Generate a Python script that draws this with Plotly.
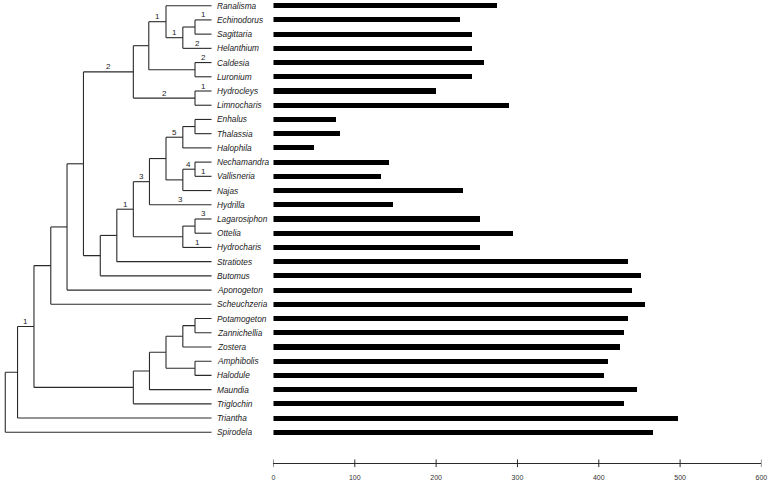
import plotly.graph_objects as go

# ---------------- data ----------------
taxa = ["Ranalisma", "Echinodorus", "Sagittaria", "Helanthium", "Caldesia", "Luronium",
        "Hydrocleys", "Limnocharis", "Enhalus", "Thalassia", "Halophila", "Nechamandra",
        "Vallisneria", "Najas", "Hydrilla", "Lagarosiphon", "Ottelia", "Hydrocharis",
        "Stratiotes", "Butomus", "Aponogeton", "Scheuchzeria", "Potamogeton", "Zannichellia",
        "Zostera", "Amphibolis", "Halodule", "Maundia", "Triglochin", "Triantha", "Spirodela"]
values = [275, 230, 245, 245, 260, 245, 200, 290, 77, 82, 51, 143, 133, 234, 148, 255, 295,
          255, 437, 452, 442, 457, 437, 432, 427, 412, 407, 447, 432, 498, 467]
leaf_parent = ["C", "E", "E", "D", "F", "F", "G", "G", "R", "R", "S", "V", "V", "U", "W",
               "AA", "AA", "Y", "Z", "I", "P", "Q", "AF", "AF", "AE", "AD", "AD", "AB", "N",
               "K", "root"]
leaf_support = ["", "1", "", "2", "2", "", "1", "", "", "", "", "", "1", "", "3", "3", "",
                "1", "", "", "", "", "", "", "", "", "", "", "", "", ""]

nodes = ["root", "K", "L", "Q", "P", "H", "A", "B", "C", "D", "E", "F", "G", "I", "Z", "X",
         "W", "T", "S", "R", "U", "V", "Y", "AA", "N", "AB", "AC", "AE", "AF", "AD"]
node_parent = [None, "root", "K", "L", "Q", "P", "H", "A", "B", "C", "D", "B", "A", "H", "I",
               "Z", "X", "W", "T", "S", "T", "U", "X", "Y", "L", "N", "AB", "AC", "AE", "AC"]
node_depth = [3.3, 15.7, 32.3, 49.3, 65.7, 82.3, 132.7, 148.3, 165.7, 182.7, 195, 195, 195,
              99.3, 116, 132.7, 149, 165.7, 182.7, 195, 182.7, 195, 182.7, 195, 132.7, 149,
              165.7, 182.7, 195, 195]
node_support = ["", "", "1", "", "", "", "2", "", "1", "1", "", "", "2", "", "", "1", "3", "",
                "5", "", "", "4", "", "", "", "", "", "", "", ""]
tip_depth = 211.7

axis_ticks = [0, 100, 200, 300, 400, 500, 600]

# ---------------- tree layout ----------------
depth = dict(zip(nodes, node_depth))
parent = dict(zip(nodes, node_parent))
children = {n: [] for n in nodes}
for n, p in zip(nodes, node_parent):
    if p is not None:
        children[p].append(n)
ypos = {}
for i, (t, p) in enumerate(zip(taxa, leaf_parent)):
    children[p].append(t)
    ypos[t] = i
    depth[t] = tip_depth
    parent[t] = p


def get_y(n):
    if n in ypos:
        return ypos[n]
    ys = [get_y(c) for c in children[n]]
    ypos[n] = (min(ys) + max(ys)) / 2
    return ypos[n]


get_y("root")

lx, ly = [], []
for n in nodes:
    ys = [ypos[c] for c in children[n]]
    lx += [depth[n], depth[n], None]
    ly += [min(ys), max(ys), None]
    for c in children[n]:
        lx += [depth[n], depth[c], None]
        ly += [ypos[c], ypos[c], None]

LINE = "#2a2a2a"
FONT = "Liberation Sans, Arial, sans-serif"

fig = go.Figure()
fig.add_trace(go.Scatter(x=lx, y=ly, mode="lines", line=dict(color=LINE, width=1.1),
                         hoverinfo="skip", showlegend=False, xaxis="x", yaxis="y"))
fig.add_trace(go.Bar(x=values, y=list(range(len(taxa))), orientation="h", width=0.36,
                     marker=dict(color="#000000", line=dict(width=0)),
                     showlegend=False, xaxis="x2", yaxis="y"))

# tick marks crossing the scale line
tx, ty = [], []
for t in axis_ticks:
    tx += [t, t, None]
    ty += [-1, 1, None]
fig.add_trace(go.Scatter(x=tx, y=ty, mode="lines", line=dict(color=LINE, width=1),
                         hoverinfo="skip", showlegend=False, xaxis="x2", yaxis="y2"))

ann = []
for i, t in enumerate(taxa):
    ann.append(dict(x=tip_depth + 3.5, y=i, xref="x", yref="y", text="<i>" + t + "</i>",
                    showarrow=False, xanchor="left", yanchor="middle",
                    font=dict(family=FONT, size=8.3, color="#222222")))
sup_items = list(zip(nodes, node_support)) + list(zip(taxa, leaf_support))
for n, s in sup_items:
    if s:
        xm = (depth[parent[n]] + depth[n]) / 2
        ann.append(dict(x=xm, y=ypos[n], xref="x", yref="y", text=s, showarrow=False,
                        xanchor="center", yanchor="middle", yshift=5,
                        font=dict(family=FONT, size=8, color="#222222")))

x0, x1 = 274.3 / 780, 767.3 / 780
axis_pos = 1 - 463.3 / 484
half = 4.0 / 484

fig.update_layout(
    width=780, height=484,
    margin=dict(l=0, r=0, t=0, b=0),
    paper_bgcolor="white", plot_bgcolor="white",
    xaxis=dict(domain=[0, 1], range=[0, 780], visible=False, fixedrange=True),
    yaxis=dict(domain=[1 - 439.4 / 484, 1], range=[30.5, -0.4], visible=False),
    yaxis2=dict(domain=[axis_pos - half, axis_pos + half], range=[-1, 1], visible=False),
    xaxis2=dict(domain=[x0, x1], range=[0, 600], anchor="free", position=axis_pos,
                showline=True, linecolor=LINE, linewidth=1, ticks="", tickvals=axis_ticks,
                showgrid=False, zeroline=False, ticklabelstandoff=7,
                tickfont=dict(family=FONT, size=7, color="#333333")),
    annotations=ann,
    bargap=0,
)

fig.write_html(
    "out.html",
    config={"displayModeBar": False},
    post_script="document.body.style.margin='0';document.body.style.overflow='hidden';",
)
